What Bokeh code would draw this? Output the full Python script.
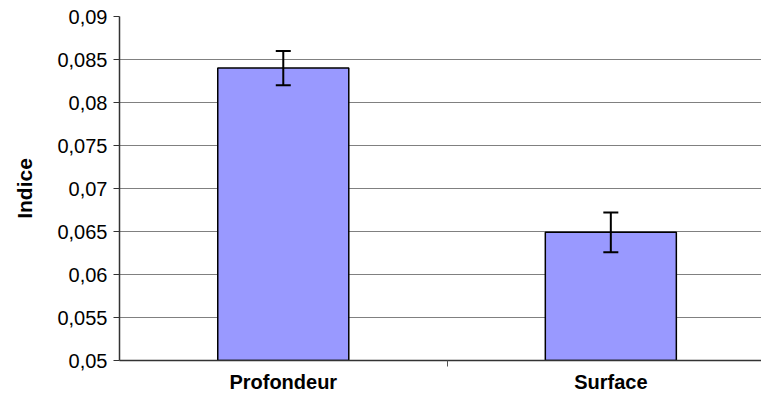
from bokeh.plotting import figure
from bokeh.models import ColumnDataSource, Range1d, FixedTicker, Whisker, TeeHead
from bokeh.embed import file_html
from bokeh.resources import INLINE

categories = ["Profondeur", "Surface"]
values = [0.0840, 0.0649]
errors = [0.0020, 0.0023]
y_ticks = [0.05, 0.055, 0.06, 0.065, 0.07, 0.075, 0.08, 0.085, 0.09]
y_tick_labels = ["0,05", "0,055", "0,06", "0,065", "0,07", "0,075", "0,08", "0,085", "0,09"]
y_label = "Indice"

xpos = [i + 0.5 for i in range(len(categories))]
src = ColumnDataSource(dict(
    x=xpos,
    top=values,
    upper=[v + e for v, e in zip(values, errors)],
    lower=[v - e for v, e in zip(values, errors)],
))

p = figure(width=761, height=395, output_backend="svg", toolbar_location=None,
           x_range=Range1d(0, 1.96), y_range=Range1d(y_ticks[0], y_ticks[-1]),
           min_border_left=119, min_border_right=0, min_border_top=16, min_border_bottom=0)
p.outline_line_color = None
p.background_fill_color = "white"

p.vbar(x="x", top="top", bottom=y_ticks[0], width=0.4, source=src,
       fill_color="#9999FF", line_color="black", line_width=1.5)

w = Whisker(base="x", upper="upper", lower="lower", source=src, level="overlay",
            line_color="black", line_width=2,
            upper_head=TeeHead(size=15, line_color="black", line_width=2),
            lower_head=TeeHead(size=15, line_color="black", line_width=2))
p.add_layout(w)

# Y axis
p.yaxis.ticker = FixedTicker(ticks=y_ticks)
p.yaxis.major_label_overrides = {t: l for t, l in zip(y_ticks, y_tick_labels)}
p.yaxis.major_label_text_font = "Liberation Sans"
p.yaxis.major_label_text_font_size = "20px"
p.yaxis.major_label_text_color = "black"
p.yaxis.major_tick_out = 6
p.yaxis.major_tick_in = 0
p.yaxis.minor_tick_line_color = None
p.yaxis.axis_line_color = "#333333"
p.yaxis.major_tick_line_color = "#333333"
p.yaxis.axis_line_width = 1.5
p.yaxis.major_label_standoff = 6
p.yaxis.axis_label = y_label
p.yaxis.axis_label_text_font = "Liberation Sans"
p.yaxis.axis_label_text_font_style = "bold"
p.yaxis.axis_label_text_font_size = "21px"
p.yaxis.axis_label_text_color = "black"
p.yaxis.axis_label_standoff = 18

# X axis
p.xaxis.ticker = FixedTicker(ticks=xpos, minor_ticks=[1.0])
p.xaxis.major_label_overrides = {x: c for x, c in zip(xpos, categories)}
p.xaxis.major_label_text_font = "Liberation Sans"
p.xaxis.major_label_text_font_style = "bold"
p.xaxis.major_label_text_font_size = "20px"
p.xaxis.major_label_text_color = "black"
p.xaxis.major_tick_line_color = None
p.xaxis.major_tick_out = 0
p.xaxis.major_tick_in = 0
p.xaxis.minor_tick_out = 6
p.xaxis.minor_tick_in = 0
p.xaxis.minor_tick_line_color = "#555555"
p.xaxis.axis_line_color = "#333333"
p.xaxis.axis_line_width = 1.5
p.xaxis.major_label_standoff = 4

p.xgrid.grid_line_color = None
p.ygrid.grid_line_color = "#808080"
p.ygrid.grid_line_width = 1

open("out.html", "w").write(file_html(p, INLINE))
